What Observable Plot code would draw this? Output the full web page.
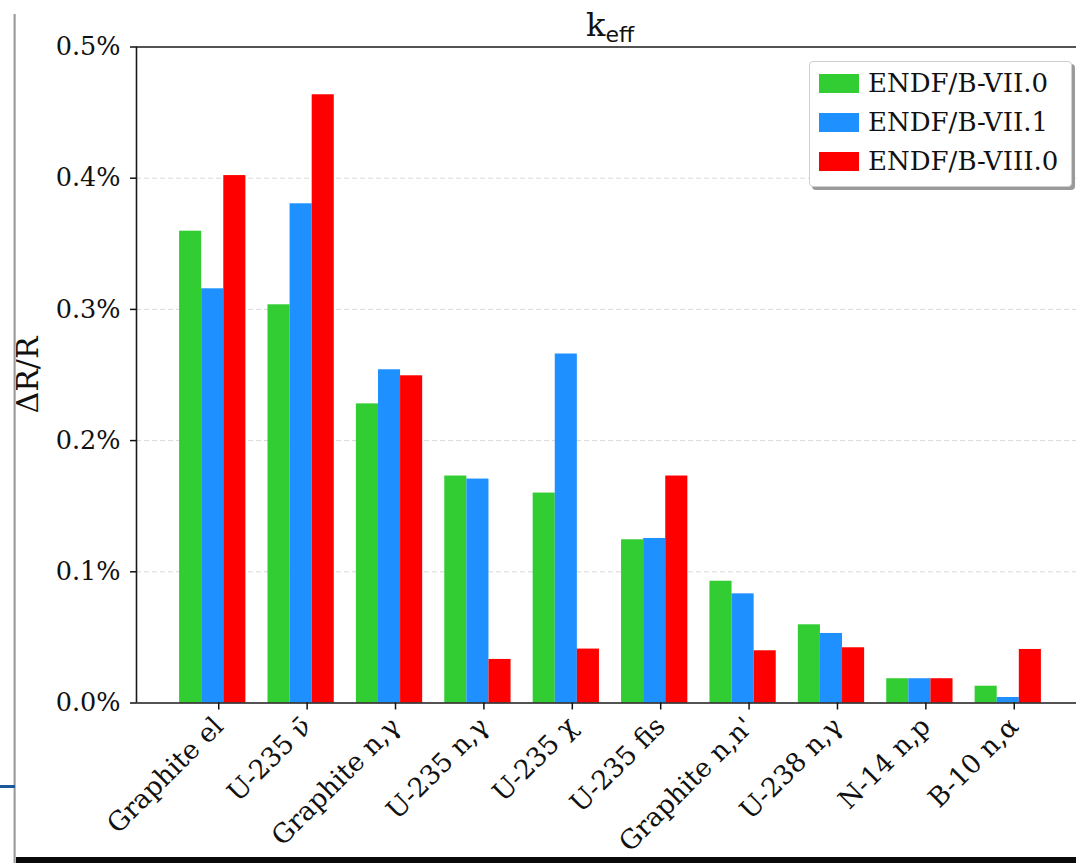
<!DOCTYPE html>
<html>
<head>
<meta charset="utf-8">
<script src="https://cdn.jsdelivr.net/npm/d3@7"></script>
<script src="https://cdn.jsdelivr.net/npm/@observablehq/plot@0.6"></script>
<style>
  html, body { margin: 0; padding: 0; background: #fff; overflow: hidden; }
  #wrap { position: relative; width: 1076px; height: 863px; overflow: hidden; background: #fff; }
  #chart { position: absolute; left: 0; top: 0; }
  #title { position: absolute; top: 6px; left: 586px; white-space: nowrap; color: #111; }
  #title .k { font-family: "DejaVu Serif", serif; font-size: 32px; }
  #title .sub { font-family: "DejaVu Sans", sans-serif; font-size: 22px; position: relative; top: 6px; }
  #legend { position: absolute; left: 809px; top: 61px; width: 263px; height: 126px; box-sizing: border-box;
            border: 1px solid #d0d0d0; border-radius: 4px; background: #fff; box-shadow: 3px 3px 0 #9a9a9a; }
  .item { position: absolute; left: 9px; height: 30px; display: flex; align-items: center; }
  .sw { width: 40px; height: 19px; margin-right: 9px; }
  .lab { font-family: "DejaVu Serif", serif; font-size: 26px; color: #111; }
  #shadowL { position: absolute; left: 13px; top: 14px; width: 3px; height: 849px;
             background: linear-gradient(to right, #eee, #999, #ccc); }
  #blueL { position: absolute; left: 0; top: 785px; width: 15px; height: 3px; background: #1b5a9a; }
  #bottomBar { position: absolute; left: 16px; top: 857px; width: 1060px; height: 6px; background: #0a0a0a; }
</style>
</head>
<body>
<div id="wrap">
  <div id="chart"></div>
  <div id="title"><span class="k">k</span><span class="sub">eff</span></div>
  <div id="legend"></div>
  <div id="shadowL"></div>
  <div id="blueL"></div>
  <div id="bottomBar"></div>
</div>
<script>
const categories = ["Graphite el", "U-235 ν̄", "Graphite n,γ", "U-235 n,γ", "U-235 χ",
                    "U-235 fis", "Graphite n,n'", "U-238 n,γ", "N-14 n,p", "B-10 n,α"];
const seriesNames = ["ENDF/B-VII.0", "ENDF/B-VII.1", "ENDF/B-VIII.0"];
const seriesColors = ["#32CD32", "#1E90FF", "#FF0000"];
// ΔR/R in percent
const endfVII0  = [0.3596, 0.3035, 0.2280, 0.1730, 0.1600, 0.1244, 0.0928, 0.0596, 0.0185, 0.0128];
const endfVII1  = [0.3157, 0.3805, 0.2540, 0.1707, 0.2660, 0.1254, 0.0832, 0.0530, 0.0185, 0.0042];
const endfVIII0 = [0.4020, 0.4636, 0.2494, 0.0332, 0.0411, 0.1730, 0.0398, 0.0421, 0.0185, 0.0408];
const yTicks = [0.0, 0.1, 0.2, 0.3, 0.4, 0.5];
const gridTicks = [0.1, 0.2, 0.3, 0.4];

const seriesValues = [endfVII0, endfVII1, endfVIII0];
const barWidth = 0.25;
const rows = [];
seriesValues.forEach((vals, s) => {
  vals.forEach((v, i) => rows.push({i, s, series: seriesNames[s], category: categories[i], value: v}));
});

const xDomain = [-0.8625, categories.length - 1 + 0.8625];
const serif = "DejaVu Serif";

const plot = Plot.plot({
  width: 1076,
  height: 863,
  marginLeft: 136,
  marginRight: 0,
  marginTop: 46.5,
  marginBottom: 160.5,
  style: {fontFamily: serif, fontSize: "25px", color: "#111", background: "transparent", overflow: "visible"},
  x: {type: "linear", domain: xDomain, range: [136, 1084]},
  y: {domain: [0, 0.5]},
  color: {domain: seriesNames, range: seriesColors},
  marks: [
    Plot.gridY(gridTicks, {stroke: "#d8d8d8", strokeOpacity: 1, strokeWidth: 1, strokeDasharray: "5,3"}),
    Plot.rectY(rows, {
      x1: d => d.i - 1.5 * barWidth + d.s * barWidth,
      x2: d => d.i - 0.5 * barWidth + d.s * barWidth,
      y1: 0, y2: "value", fill: "series"
    }),
    Plot.ruleY([0, 0.5], {stroke: "#1a1a1a", strokeWidth: 1.6}),
    Plot.ruleX([xDomain[0]], {stroke: "#1a1a1a", strokeWidth: 1.6}),
    Plot.axisY(yTicks, {
      tickSize: 6, tickPadding: 10, strokeWidth: 1.5, fontSize: 25.5,
      tickFormat: d => d.toFixed(1) + "%", label: null
    }),
    Plot.axisX(d3.range(categories.length), {
      tickSize: 7, tickPadding: 12, strokeWidth: 1.5, fontSize: 26.5, dx: 6,
      tickRotate: -45, tickFormat: i => categories[i], label: null
    }),
    Plot.text(["ΔR/R"], {frameAnchor: "left", textAnchor: "middle", rotate: -90, dx: -108, fontSize: 30, fill: "#111"})
  ]
});
document.getElementById("chart").appendChild(plot);

const legend = document.getElementById("legend");
const rowTops = [6, 45, 84];
seriesNames.forEach((name, k) => {
  const it = document.createElement("div");
  it.className = "item";
  it.style.top = rowTops[k] + "px";
  const sw = document.createElement("div");
  sw.className = "sw";
  sw.style.background = seriesColors[k];
  const lab = document.createElement("span");
  lab.className = "lab";
  lab.textContent = name;
  it.appendChild(sw); it.appendChild(lab);
  legend.appendChild(it);
});
</script>
</body>
</html>
